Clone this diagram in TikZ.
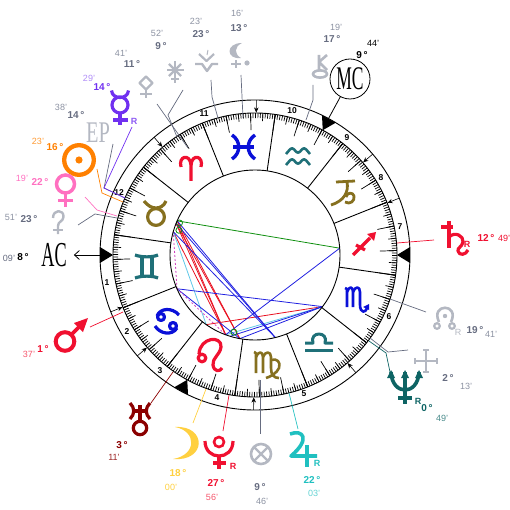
\documentclass[tikz,border=0pt]{standalone}
\usepackage{fontspec}
\setmainfont{Liberation Sans}
\newfontfamily\capsfont{Liberation Serif}
\usetikzlibrary{arrows.meta}
\definecolor{slate}{HTML}{666C80}
\definecolor{pale}{HTML}{B4B8C2}
\definecolor{paletext}{HTML}{8C92A2}
\definecolor{hue1}{HTML}{F01030}
\definecolor{hue2}{HTML}{86701F}
\definecolor{hue3}{HTML}{1F7078}
\definecolor{hue4}{HTML}{0A10D8}
\definecolor{sunc}{HTML}{FF8000}
\definecolor{venc}{HTML}{FF70C0}
\definecolor{merc}{HTML}{7030F0}
\definecolor{uranc}{HTML}{8B0000}
\definecolor{moonc}{HTML}{FFD040}
\definecolor{jupc}{HTML}{20C0C0}
\definecolor{nepc}{HTML}{0E6464}
\definecolor{asp1}{HTML}{2020E0}
\definecolor{asp2}{HTML}{E81020}
\definecolor{asp3}{HTML}{109010}
\definecolor{asp4}{HTML}{60C8E8}
\definecolor{asp5}{HTML}{D040C0}
\tikzset{
  glyph/.style={line width=3.2pt,line join=round},
  ptr/.style={line width=.7pt},
  tickl/.style={line width=.7pt},
  bold/.style={font=\fontsize{10}{10}\selectfont\bfseries,inner sep=0pt},
  mins/.style={font=\fontsize{9}{9}\selectfont,inner sep=0pt},
  retro/.style={font=\fontsize{9}{9}\selectfont\bfseries,inner sep=0pt},
  house/.style={font=\fontsize{8.5}{8.5}\selectfont\bfseries,inner sep=0pt},
  aspect/.style={line width=.8pt}
}
\begin{document}
\begin{tikzpicture}[x=1pt,y=-1pt]
    \useasboundingbox (0,0) rectangle (510,510);
    \begin{scope}[shift={(255,255)},y=1pt]
        \coordinate (me) at (156.3:85);
        \coordinate (su) at (158.2:85);
        \coordinate (ve) at (164.1:85);
        \coordinate (ma) at (203.4:85);
        \coordinate (ur) at (235:85);
        \coordinate (mo) at (249.8:85);
        \coordinate (mx) at (253:85);
        \coordinate (pl) at (259.7:85);
        \coordinate (ju) at (283.8:85);
        \coordinate (ne) at (322.6:85);
        \coordinate (sa) at (4.6:85);
        \draw[aspect,asp3] (me) -- (sa);
        \draw[aspect,asp2] (su) -- (mo);
        \draw[aspect,asp2] (me) -- (mo);
        \draw[aspect,asp2] (ve) -- (mo);
        \draw[aspect,asp2] (me) -- (pl);
        \draw[aspect,asp2] (su) -- (pl);
        \draw[aspect,asp2] (ur) -- (ne);
        \draw[aspect,asp4] (ve) -- (ur);
        \draw[aspect,asp4] (ne) -- (mo);
        \draw[aspect,asp1] (me) -- (ju);
        \draw[aspect,asp1] (su) -- (ju);
        \draw[aspect,asp1] (ve) -- (ju);
        \draw[aspect,asp1] (sa) -- (mo);
        \draw[aspect,asp1] (ma) -- (ne);
        \draw[aspect,asp1] (ma) -- (pl);
        \draw[aspect,asp1] (ne) -- (pl);
        \draw[aspect,asp1] (ne) -- (mx);
        \draw[aspect,asp5,dashed,dash pattern=on 2pt off 2pt] (ma) -- (ve);
        \draw[aspect,asp5,dashed,dash pattern=on 2pt off 2pt] (ma) -- (mo);
        \draw[asp3,line width=.8pt] (157:82) circle (3pt);
        \draw[asp3,line width=.8pt] (162:80) circle (3pt);
        \draw[asp3,line width=.8pt] (254.7:80) circle (3pt);
        \draw[line width=.9pt] (0,0) circle (155pt);
        \draw[line width=.9pt] (0,0) circle (142pt);
        \draw[line width=.9pt] (0,0) circle (85pt);
        \foreach \a in {0,...,359}
            \draw[tickl] (21.8+\a:142) -- (21.8+\a:137);
        \foreach \a in {0,5,...,355}
            \draw[tickl] (21.8+\a:142) -- (21.8+\a:134);
        \foreach \a in {0,10,...,350}
            \draw[tickl] (21.8+\a:142) -- (21.8+\a:125);
        \foreach \a in {0,30,...,330}
            \draw[line width=.9pt] (21.8+\a:142) -- (21.8+\a:85);
        \foreach \a in {0,61.5,180,241.5}
            \fill (\a:142) -- (\a+2.9:155) -- (\a-2.9:155) -- cycle;
        \foreach \a in {21.5,40.6,89.5,130.6,201.5,220.6,269.5,310.6}
            \draw[line width=.6pt,-{Stealth[length=5pt,width=4.5pt]}] (\a:155) -- (\a:142.5);
    \end{scope}
    \foreach \n/\x/\y in {1/107/283,2/127/332,3/160/371,4/217/398,5/304/394,6/389/317,7/400/227,8/381/178,9/347/138,10/292/111,11/204/114,12/119/193}
        \node[house] (house\n) at (\x,\y) {\n};

    \draw[glyph,hue1] (181,167) .. controls (178,156) and (190,153) .. (191,165) -- (191,181);
    \draw[glyph,hue1] (201,167) .. controls (204,156) and (192,153) .. (191,165);
    \draw[glyph,hue2] (156,217) circle (8.4pt);
    \draw[glyph,hue2] (144,201) .. controls (148,206) and (152,208) .. (156,208) .. controls (160,208) and (164,206) .. (166,201);
    \draw[glyph,hue3] (135,255) .. controls (142,257.5) and (152,257.5) .. (158,255);
    \draw[glyph,hue3] (135,278) .. controls (142,275.5) and (152,275.5) .. (158,278);
    \draw[glyph,hue3] (142,256) -- (142,277) (152,256) -- (152,277);
    \draw[glyph,hue4] (161,317) circle (3.5pt) (173,326) circle (3.5pt);
    \draw[glyph,hue4] (157,316) .. controls (160,308) and (172,307) .. (179,315);
    \draw[glyph,hue4] (155,326) .. controls (160,334) and (172,336) .. (177,328);
    \draw[glyph,hue1] (202,358) circle (3.8pt);
    \draw[glyph,hue1] (199,354) .. controls (200,337) and (222,335) .. (221,347) .. controls (220,355) and (212,358) .. (213,365) .. controls (214,372) and (220,372) .. (222,368);
    \draw[glyph,hue2,line width=2.6pt] (254,352) .. controls (255,352) and (256,353) .. (256,354) -- (256,373);
    \draw[glyph,hue2,line width=2.6pt] (256,357) .. controls (258,351) and (263,351) .. (263,357) -- (263,373);
    \draw[glyph,hue2,line width=2.6pt] (263,357) .. controls (265,351) and (271,351) .. (271,357) -- (271,368) .. controls (271,375) and (274,378) .. (279,378);
    \draw[glyph,hue2,line width=2.6pt] (271,360) .. controls (277,358) and (281,362) .. (279,368) .. controls (277,373) and (270,377) .. (266,378);
    \draw[glyph,hue3,line width=3pt] (305,343) -- (313,343) .. controls (309,331) and (329,331) .. (325,343) -- (333,343);
    \draw[glyph,hue3,line width=3pt] (305,350) -- (333,350);
    \draw[glyph,hue4,line width=2.6pt] (345,288) -- (347,289) -- (347,307);
    \draw[glyph,hue4,line width=2.6pt] (347,292) .. controls (349,286) and (353,286) .. (353,292) -- (353,307);
    \draw[glyph,hue4,line width=2.6pt] (353,292) .. controls (355,286) and (360,286) .. (360,292) -- (360,305) .. controls (360,313) and (366,314) .. (367,307);
    \fill[hue4] (369,304) -- (363,307) -- (369,310) -- cycle;
    \draw[glyph,hue1] (353,255) -- (370,238);
    \fill[hue1] (376,232) -- (367,234) -- (374,241) -- cycle;
    \draw[glyph,hue1] (356,245) -- (365,250);
    \draw[glyph,hue2,line width=2.8pt] (336,182) -- (355,181) (347,182) .. controls (349,192) and (344,201) .. (331,205);
    \draw[glyph,hue2,line width=2.8pt] (345,202) .. controls (350,205) and (355,201) .. (354,196) .. controls (353,192) and (347,192) .. (346,197);
    \foreach \y in {151,162}
        \draw[glyph,hue3,line width=2.6pt,rounded corners=3pt] (286,\y+3) -- (292,\y-4) -- (298,\y+3) -- (304,\y-4) -- (310,\y+3);
    \draw[glyph,hue4,line width=3.4pt] (232,135) .. controls (241,141) and (241,153) .. (232,159);
    \draw[glyph,hue4,line width=3.4pt] (255,135) .. controls (246,141) and (246,153) .. (255,159);
    \draw[glyph,hue4] (233,147) -- (254,147);

    \draw[ptr,slate] (241,75) -- (243,118);
    \draw[glyph,pale,line width=2.4pt] (236,60) -- (236,68) (231,64) -- (241,64);
    \fill[pale] (242,43) .. controls (225,43) and (226,60) .. (241,58) .. controls (234,54) and (234,47) .. (242,43) -- cycle;
    \fill[pale] (247,63) circle (2.6pt);
    \node[bold,slate] (degLil) at (239,28) {13\,°};
    \node[mins,paletext] (minLil) at (237,13) {16'};

    \draw[ptr,slate] (211,80) -- (212,97) -- (218,118);
    \draw[glyph,pale,line width=2.4pt] (195,64) -- (202,64) -- (207,71) -- (212,64) -- (218,64);
    \draw[glyph,pale,line width=2.2pt] (199,54) -- (206.5,61) -- (214,54);
    \draw[pale,line width=1pt] (207,55) -- (208,50);
    \node[bold,slate] (degB) at (201,34) {23\,°};
    \node[mins,paletext] (minB) at (196,21) {23'};

    \draw[ptr,slate] (183,90) -- (168,115) -- (177,137);
    \foreach \a in {0,45,...,135}
        \draw[pale,line width=2.2pt] (175,70) ++(\a:8.5) -- ++(\a+180:17);
    \draw[glyph,pale,line width=2.2pt] (175,78) -- (175,83) (171,79) -- (179,79);
    \node[bold,slate] (degC) at (161,46) {9\,°};
    \node[mins,paletext] (minC) at (157,33) {52'};

    \draw[ptr,slate] (157,104) -- (188,148);
    \draw[glyph,pale,line width=2.4pt] (146,76.5) -- (152.5,83) -- (146,89.5) -- (139.5,83) -- cycle;
    \draw[glyph,pale,line width=2.4pt] (146,90) -- (146,98.5) (140,94) -- (152,94);
    \node[bold,slate] (degD) at (132,64) {11\,°};
    \node[mins,paletext] (minD) at (121,53) {41'};

    \draw[ptr,slate] (113,144) -- (104,188) -- (125,198);
    \node[pale,inner sep=0pt] (ep) at (98,133) {\capsfont\fontsize{30}{30}\selectfont\scalebox{.68}[1]{EP}};
    \node[bold,slate] (degEp) at (76,115) {14\,°};
    \node[mins,paletext] (minEp) at (61,107) {38'};

    \draw[ptr,merc] (132,127) -- (104,188) -- (125,198);
    \draw[glyph,merc] (120,105) circle (8pt);
    \draw[glyph,merc] (111.5,90.5) .. controls (112,95.5) and (116,97.5) .. (120,97.5) .. controls (124,97.5) and (128,95.5) .. (128.5,90.5);
    \draw[glyph,merc] (120,113) -- (120,125) (113,120) -- (128,120);
    \node[retro,merc!80] (rMe) at (134,121) {R};
    \node[bold,merc] (degMe) at (102,87) {14\,°};
    \node[mins,merc!55] (minMe) at (89,78) {29'};

    \draw[ptr,sunc] (97,169) -- (102,193) -- (123,202);
    \draw[sunc,line width=4.3pt] (79,160) circle (14.8pt);
    \fill[sunc] (79,160) circle (3.6pt);
    \node[bold,sunc] (degSu) at (55,147) {16\,°};
    \node[mins,sunc!80] (minSu) at (38,141) {23'};

    \draw[ptr,venc] (85,197) -- (97,210) -- (117,216);
    \draw[venc,line width=3.5pt] (65.5,184) circle (9pt);
    \draw[glyph,venc] (65.5,194) -- (65.5,207) (58,200.5) -- (73,200.5);
    \node[bold,venc] (degVe) at (40,182) {22\,°};
    \node[mins,venc] (minVe) at (22,178) {19'};

    \draw[ptr,slate] (78,225) -- (95,214) -- (117,218);
    \draw[glyph,pale,line width=2.4pt] (53,218) .. controls (53,209) and (64,209) .. (63.5,217) .. controls (63,222) and (58,221) .. (58,226) -- (58,234);
    \draw[glyph,pale,line width=2.4pt] (53,230) -- (63,230);
    \node[bold,slate] (degCe) at (29,219) {23\,°};
    \node[mins,paletext] (minCe) at (11,217) {51'};

    \node[inner sep=0pt] (ac) at (54,255) {\capsfont\fontsize{35}{35}\selectfont\scalebox{.52}[1]{AC}};
    \coordinate (acEnd) at (100,255);
    \draw[line width=.8pt,shorten >=7pt,-{Straight Barb[length=5pt,width=9pt]}] (acEnd) -- (ac.east);
    \node[bold] (degAc) at (23,257) {8\,°};
    \node[mins,slate] (minAc) at (9,258) {09'};

    \draw[ptr,hue1] (123,312) -- (90,327);
    \draw[hue1,line width=4pt] (65,341.5) circle (9.3pt);
    \draw[glyph,hue1,line width=3.6pt] (72,334) -- (82,324);
    \fill[hue1] (88,318) -- (74,323) -- (83,332) -- cycle;
    \node[bold,hue1] (degMa) at (43,349) {1\,°};
    \node[mins,hue1!70] (minMa) at (29,354) {37'};

    \draw[ptr,uranc] (173,372) -- (151,403);
    \draw[glyph,uranc] (140,428) circle (6.7pt);
    \draw[glyph,uranc] (140,405) -- (140,421) (133,411) -- (147,411);
    \draw[glyph,uranc] (130,403) .. controls (135,408) and (135,414) .. (130,419);
    \draw[glyph,uranc] (150,403) .. controls (145,408) and (145,414) .. (150,419);
    \node[bold,uranc] (degUr) at (122,445) {3\,°};
    \node[mins,uranc!85] (minUr) at (114,457) {11'};

    \draw[ptr,moonc] (206,389) -- (193,423);
    \fill[moonc] (175,427) .. controls (207,425) and (207,462) .. (173,459) .. controls (197,455) and (197,431) .. (175,427) -- cycle;
    \node[bold,moonc] (degMo) at (178,473) {18\,°};
    \node[mins,moonc] (minMo) at (171,487) {00'};

    \draw[ptr,hue1] (229,395) -- (223,431);
    \draw[hue1,line width=2.6pt] (219,442) circle (5pt);
    \draw[glyph,hue1] (205,441) .. controls (205,461) and (233,461) .. (233,441);
    \draw[glyph,hue1] (219,456) -- (219,468.5) (213,463) -- (226,463);
    \node[retro,hue1] (rPl) at (233,466) {R};
    \node[bold,hue1] (degPl) at (216,483) {27\,°};
    \node[mins,hue1!70] (minPl) at (212,497) {56'};

    \draw[ptr,slate] (260,380) -- (260,434);
    \draw[pale,line width=2.6pt] (261,454) circle (10pt);
    \draw[pale,line width=2.4pt] (254,447) -- (268,461) (268,447) -- (254,461);
    \node[bold,slate] (degFo) at (260,487) {9\,°};
    \node[mins,paletext] (minFo) at (262,501) {46'};

    \draw[ptr,jupc] (289,393) -- (298,429);
    \draw[glyph,jupc,line width=3.6pt] (290,434) .. controls (303,429) and (311,439) .. (291,456) -- (317,456);
    \draw[glyph,jupc,line width=3.6pt] (306.7,445) -- (306.7,467);
    \node[retro,jupc] (rJu) at (317,463) {R};
    \node[bold,jupc] (degJu) at (312,480) {22\,°};
    \node[mins,jupc!70] (minJu) at (314,493) {03'};

    \draw[ptr,nepc] (369,341) -- (386,353) -- (390,372);
    \draw[glyph,nepc,line width=3.6pt] (391,372) .. controls (392,396) and (418,396) .. (419,372);
    \draw[glyph,nepc,line width=3.6pt] (405,372) -- (405,404) (398,398) -- (412,398);
    \foreach \x in {391,405,419}
        \fill[nepc] (\x,370) -- (\x-4,378) -- (\x+4,378) -- cycle;
    \node[retro,nepc] (rNe) at (418,401) {R};
    \node[bold,nepc] (degNe) at (427,408) {0\,°};
    \node[mins,nepc!75] (minNe) at (442,418) {49'};

    \draw[ptr,slate] (370,338) -- (388,352) -- (408,350);
    \draw[pale,line width=2pt] (426,350) -- (426,372) (415,361) -- (437,361);
    \draw[pale,line width=1.4pt] (423,350) -- (429,350) (423,372) -- (429,372) (415,358) -- (415,364) (437,358) -- (437,364);
    \node[bold,slate] (degVx) at (448,378) {2\,°};
    \node[mins,paletext] (minVx) at (466,386) {13'};

    \draw[ptr,slate] (390,299) -- (426,312);
    \draw[glyph,pale,line width=2.6pt] (439,322) .. controls (430,303) and (460,303) .. (451,322);
    \draw[pale,line width=2.2pt] (437,326) circle (2.8pt) (452,326) circle (2.8pt);
    \fill[pale] (445,316) circle (2.2pt);
    \node[retro,font=\fontsize{9}{9}\selectfont,pale] (rNo) at (458,332) {R};
    \node[bold,slate] (degNo) at (475,330) {19\,°};
    \node[mins,paletext] (minNo) at (491,334) {41'};

    \draw[ptr,hue1] (397,243) -- (434,240);
    \draw[glyph,hue1] (449,221) -- (449,248) (441,227) -- (453,227);
    \draw[glyph,hue1] (449,237) .. controls (455,231) and (464,236) .. (463,242) .. controls (462,247) and (457,248) .. (458,251) .. controls (459,256) and (466,255) .. (468,250);
    \node[retro,hue1] (rSa) at (467,244) {R};
    \node[bold,hue1] (degSa) at (486,238) {12\,°};
    \node[mins,hue1] (minSa) at (504,238) {49'};

    \draw[ptr,slate] (313,85) -- (313,100) -- (306,120);
    \draw[glyph,pale,line width=2.6pt] (319,55) -- (319,70) (327,55) -- (319,62) -- (327,70);
    \draw[pale,line width=2.6pt] (320,74) ellipse (7pt and 3.6pt);
    \node[bold,slate] (degCh) at (332,39) {17\,°};
    \node[mins,paletext] (minCh) at (336,27) {19'};

    \node[draw,circle,line width=.8pt,minimum size=40pt,inner sep=0pt] (mc) at (350,79) {\capsfont\fontsize{33}{33}\selectfont\scalebox{.53}[1]{MC}};
    \coordinate (mcEnd) at (325,125);
    \draw[line width=.8pt] (mc) -- (mcEnd);
    \node[bold] (degMc) at (362,55) {9\,°};
    \node[mins] (minMc) at (373,43) {44'};
\end{tikzpicture}
\end{document}
